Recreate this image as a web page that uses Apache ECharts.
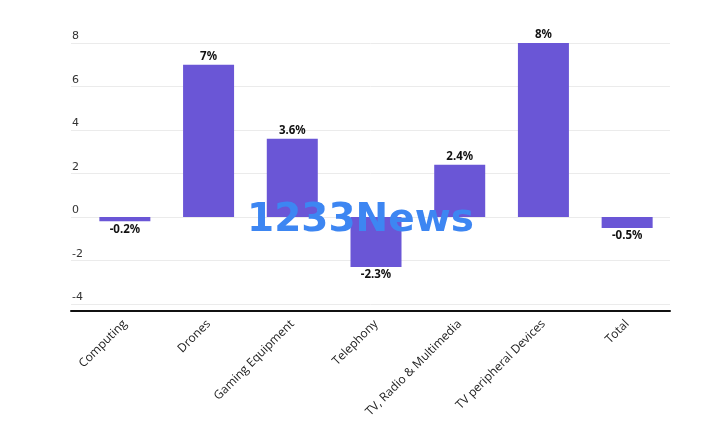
<!DOCTYPE html>
<html>
<head>
<meta charset="utf-8">
<script src="https://cdn.jsdelivr.net/npm/echarts@6/dist/echarts.min.js"></script>
<style>html,body{margin:0;padding:0;background:#fff}#c{width:719px;height:439px}</style>
</head>
<body>
<div id="c"></div>
<script>
const categories = ['Computing', 'Drones', 'Gaming Equipment', 'Telephony', 'TV, Radio & Multimedia', 'TV peripheral Devices', 'Total'];
const values = [-0.2, 7, 3.6, -2.3, 2.4, 8, -0.5];
const yMin = -4, yMax = 8, yStep = 2;
const watermark = '1233News';

const chart = echarts.init(document.getElementById('c'), null, {renderer: 'canvas'});
chart.setOption({
  animation: false,
  backgroundColor: '#fff',
  grid: [
    {left: 71, right: 49, top: 43, bottom: 135},
    {left: 83, right: 50, top: 43, bottom: 135}
  ],
  xAxis: [
    {gridIndex: 0, type: 'category', data: categories, offset: 7,
     axisLine: {show: true, onZero: false, lineStyle: {color: '#111', width: 2}},
     axisTick: {show: false}, axisLabel: {show: false}, splitLine: {show: false}},
    {gridIndex: 1, type: 'category', data: categories,
     axisLine: {show: false, onZero: false}, axisTick: {show: false},
     axisLabel: {rotate: 45, margin: 18, interval: 0, color: '#222', fontSize: 12, fontFamily: 'Open Sans'}}
  ],
  yAxis: [
    {gridIndex: 0, type: 'value', min: yMin, max: yMax, interval: yStep,
     axisLine: {show: false}, axisTick: {show: false},
     axisLabel: {inside: true, margin: 1, verticalAlign: 'bottom', padding: [0, 0, 1, 0], color: '#333', fontSize: 11, fontFamily: 'DejaVu Sans'},
     splitLine: {lineStyle: {color: '#ebebeb', width: 1}}},
    {gridIndex: 1, type: 'value', min: yMin, max: yMax, interval: yStep, show: false, splitLine: {show: false}}
  ],
  series: [{
    type: 'bar',
    xAxisIndex: 1, yAxisIndex: 1,
    barWidth: 51,
    itemStyle: {color: '#6a56d6'},
    label: {show: true, color: '#111', fontWeight: 'bold', fontSize: 11.5, fontFamily: 'Noto Sans', distance: 2,
            formatter: p => p.value + '%'},
    data: values.map(v => ({value: v, label: {position: v >= 0 ? 'top' : 'bottom'}}))
  }],
  graphic: [{
    type: 'text', left: 247, top: 201, z: 100,
    style: {text: watermark, fill: '#3d86f2', font: 'bold 39px "DejaVu Sans"'}
  }]
});
</script>
</body>
</html>
